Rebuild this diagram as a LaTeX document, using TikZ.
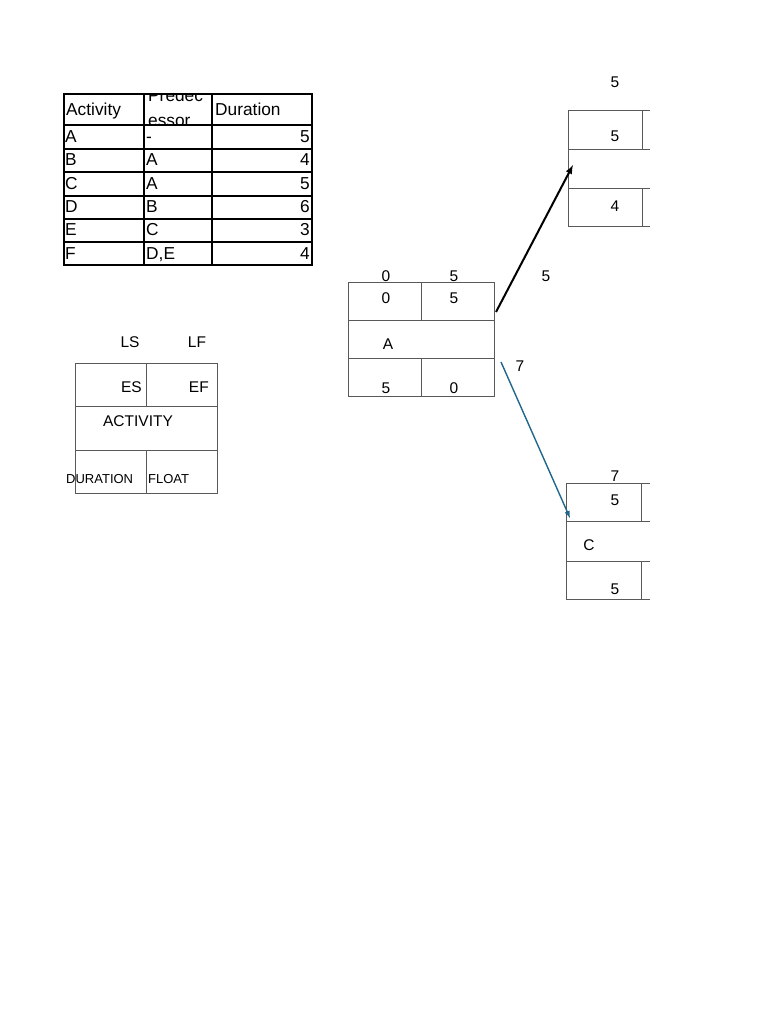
\documentclass[tikz,border=0pt]{standalone}
\usepackage{fontspec}
\setmainfont{Liberation Sans}
\begin{document}
\begin{tikzpicture}[x=1pt,y=-1pt,
  tline/.style={line width=1.6pt,black},
  bline/.style={line width=1pt,draw=black!65},
  t/.style={inner sep=0pt,font=\fontsize{17.3}{17}\selectfont},
  n/.style={inner sep=0pt,font=\fontsize{15.5}{15.5}\selectfont},
  sm/.style={inner sep=0pt,font=\fontsize{13}{13}\selectfont}]
\useasboundingbox (0,0) rectangle (768,1024);
\fill[white] (0,0) rectangle (768,1024);
% ---- table ----
\foreach \y in {125,149,172,196,219,242} \draw[tline] (64,\y) -- (312,\y);
\draw[tline] (144,94) -- (144,265);
\draw[tline] (212,94) -- (212,265);
\draw[line width=2.4pt] (64,94) rectangle (312,265);
\node[t,anchor=base west] (h1) at (66,116) {Activity};
\begin{scope}
\clip (145,95) rectangle (211,124);
\node[t,anchor=base west] (h2a) at (148,102) {Predec};
\node[t,anchor=base west] (h2b) at (148,127) {essor};
\end{scope}
\node[t,anchor=base west] (h3) at (215,116) {Duration};
\foreach \a/\p/\d/\y in {A/-/5/143,B/A/4/166,C/A/5/190,D/B/6/213,E/C/3/236,F/{D,E}/4/259}{
  \node[t,anchor=base west] at (65,\y) {\a};
  \node[t,anchor=base west] at (146,\y) {\p};
  \node[t,anchor=base east] at (310,\y) {\d};
}
% ---- legend ----
\draw[bline] (75,363) rectangle (217,493);
\draw[bline] (75,406) -- (217,406);
\draw[bline] (75,450) -- (217,450);
\draw[bline] (146,363) -- (146,406);
\draw[bline] (146,450) -- (146,493);
\node[n] (ls) at (130,342) {LS};
\node[n] (lf) at (197,342) {LF};
\node[n,anchor=east] (es) at (142,387) {ES};
\node[n,anchor=east] (ef) at (209,387) {EF};
\node[n] (act) at (138,421) {ACTIVITY};
\node[sm,anchor=west] (dur) at (66,479) {DURATION};
\node[sm,anchor=west] (flo) at (148,479) {FLOAT};
% ---- box A ----
\draw[bline] (348,282) rectangle (494,396);
\draw[bline] (348,320) -- (494,320);
\draw[bline] (348,358) -- (494,358);
\draw[bline] (421,282) -- (421,320);
\draw[bline] (421,358) -- (421,396);
\node[n] at (386,276) {0};
\node[n] at (454,276) {5};
\node[n] at (386,298) {0};
\node[n] at (454,298) {5};
\node[n] at (388,344) {A};
\node[n] at (386,388) {5};
\node[n] at (454,388) {0};
\coordinate (aout1) at (496,312);
\coordinate (aout2) at (501,362);
% ---- box B ----
\draw[bline] (650,111) -- (568,111) -- (568,227) -- (650,227);
\draw[bline] (568,150) -- (650,150);
\draw[bline] (568,189) -- (650,189);
\draw[bline] (642,111) -- (642,150);
\draw[bline] (642,189) -- (642,227);
\node[n] at (615,82) {5};
\node[n] at (615,136) {5};
\node[n] at (615,206) {4};
\coordinate (bin) at (573,165);
% ---- box C ----
\draw[bline] (650,483) -- (566,483) -- (566,599) -- (650,599);
\draw[bline] (566,521) -- (650,521);
\draw[bline] (566,561) -- (650,561);
\draw[bline] (641,483) -- (641,521);
\draw[bline] (641,561) -- (641,599);
\node[n] at (615,476) {7};
\node[n] at (615,500) {5};
\node[n] at (589,545) {C};
\node[n] at (615,589) {5};
\coordinate (cin) at (570,518);
% ---- arrows ----
\draw[line width=2pt,-latex] (aout1) -- (bin);
\draw[line width=1.4pt,draw={rgb,255:red,31;green,104;blue,140},-latex] (aout2) -- (cin);
\node[n] (l5) at (546,276) {5};
\node[n] (l7) at (520,366) {7};
\end{tikzpicture}
\end{document}
